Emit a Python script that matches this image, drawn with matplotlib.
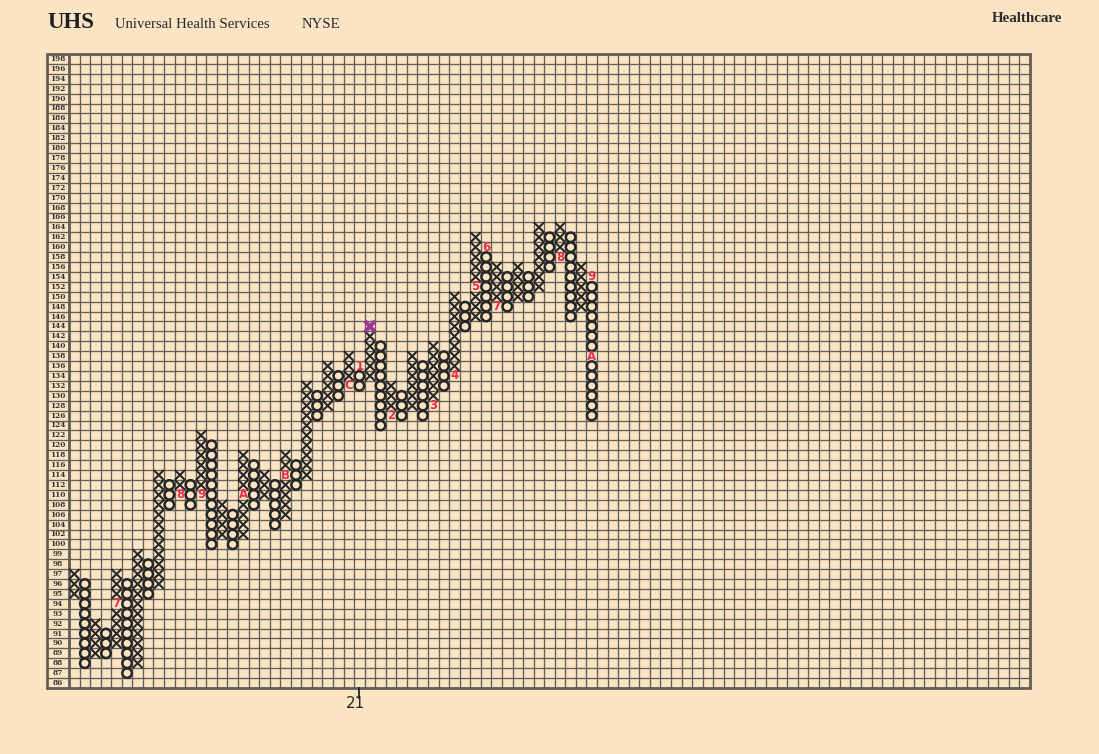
import numpy as np
import matplotlib.pyplot as plt
from matplotlib.patches import Ellipse, Rectangle
from matplotlib.collections import LineCollection

# price scale from top to bottom: 2-point boxes from 100 up, 1-point below
price_rows = list(range(198, 99, -2)) + list(range(99, 85, -1))

# point & figure columns (kind, lowest box, highest box)
col_kind = ['X', 'O', 'X', 'O', 'X', 'O', 'X', 'O', 'X', 'O',
            'X', 'O', 'X', 'O', 'X', 'O', 'X', 'O', 'X', 'O',
            'X', 'O', 'X', 'O', 'X', 'O', 'X', 'O', 'X', 'O',
            'X', 'O', 'X', 'O', 'X', 'O', 'X', 'O', 'X', 'O',
            'X', 'O', 'X', 'O', 'X', 'O', 'X', 'O', 'X', 'O']
col_low = [95, 88, 89, 89, 90, 87, 88, 95, 96, 108,
           110, 108, 110, 100, 102, 100, 102, 108, 110, 104,
           106, 112, 114, 126, 128, 130, 132, 132, 134, 124,
           126, 126, 128, 126, 128, 132, 134, 144, 146, 146,
           148, 148, 150, 150, 152, 156, 158, 146, 148, 126]
col_high = [97, 96, 92, 91, 97, 96, 99, 98, 114, 112,
            114, 112, 122, 120, 108, 106, 118, 116, 114, 112,
            118, 116, 132, 130, 136, 134, 138, 136, 144, 140,
            132, 130, 138, 136, 140, 138, 150, 148, 162, 160,
            156, 154, 156, 154, 164, 162, 164, 162, 156, 154]

# month marks written in place of a box
label_col = [4, 10, 12, 16, 20, 26, 27, 30, 34, 36, 38, 39, 40, 46, 49, 49]
label_price = [94, 110, 110, 110, 114, 132, 136, 126, 128, 134, 152, 160, 148, 158, 154, 138]
label_text = ['7', '8', '9', 'A', 'B', 'C', '1', '2', '3', '4', '5', '6', '7', '8', '9', 'A']

# purple highlighted box
purple_col = 28
purple_price = 144

n_cols = 91
year_col = 27
year_text = '21'

paper = '#fae4c4'
grid_c = '#625e58'
ink = '#262626'
red = '#ea2f4c'

fig = plt.figure(figsize=(10.99, 7.54), dpi=100, facecolor=paper)
ax = fig.add_axes([47 / 1099, 66 / 754, 983 / 1099, 634 / 754])
ax.set_facecolor(paper)
n_rows = len(price_rows)
lab_w = 22 / 10.56
ax.set_xlim(-lab_w, n_cols)
ax.set_ylim(0, n_rows)
ax.axis('off')

row_of = {p: n_rows - 1 - i for i, p in enumerate(price_rows)}

# grid
for y in range(n_rows + 1):
    ax.plot([-lab_w, n_cols], [y, y], color=grid_c, lw=0.95, zorder=1)
for x in range(n_cols + 1):
    ax.plot([x, x], [0, n_rows], color=grid_c, lw=0.95, zorder=1)
ax.add_patch(Rectangle((-lab_w, 0), n_cols + lab_w, n_rows, fill=False,
                       edgecolor=grid_c, lw=2.0, zorder=2, clip_on=False))
ax.plot([0, 0], [0, n_rows], color=grid_c, lw=2.0, zorder=2)

# price labels
for p in price_rows:
    ax.text(-lab_w / 2, row_of[p] + 0.5, str(p), ha='center', va='center',
            fontsize=5.3, fontweight='bold', family='DejaVu Serif', color='#333333')

labelled = set(zip(label_col, label_price))

# X and O boxes
segs = []
for c, kind in enumerate(col_kind):
    for p in price_rows:
        if p < col_low[c] or p > col_high[c]:
            continue
        if (c, p) in labelled or (c == purple_col and p == purple_price):
            continue
        r = row_of[p]
        if kind == 'X':
            segs.append([(c + 0.02, r + 0.0), (c + 0.98, r + 1.0)])
            segs.append([(c + 0.02, r + 1.0), (c + 0.98, r + 0.0)])
        else:
            ax.add_patch(Ellipse((c + 0.5, r + 0.5), 0.9, 0.95, angle=0, fill=False,
                                 edgecolor=ink, lw=1.8, zorder=3))
ax.add_collection(LineCollection(segs, colors=ink, linewidths=1.5, zorder=3))

# purple box
r = row_of[purple_price]
ax.plot([purple_col + 0.15, purple_col + 0.85], [r + 0.1, r + 0.9], color='#a0339a', lw=2.8, zorder=4)
ax.plot([purple_col + 0.15, purple_col + 0.85], [r + 0.9, r + 0.1], color='#a0339a', lw=2.8, zorder=4)

# month marks
for c, p, t in zip(label_col, label_price, label_text):
    ax.text(c + 0.5, row_of[p] + 0.5, t, ha='center', va='center', fontsize=8.5,
            color=red, fontweight='bold', family='DejaVu Sans', zorder=4)

# year tick
ax.plot([year_col + 0.5, year_col + 0.5], [0, -1.05], color=ink, lw=1.3, clip_on=False)
ax.text(year_col + 0.1, -1.6, year_text, ha='center', va='center', fontsize=11,
        color=ink, family='DejaVu Sans')

# header
fig.text(47 / 1099, 1 - 22 / 754, 'UHS', fontsize=16.5, fontweight='bold',
         family='Liberation Serif', va='center', color='#1e1e1e')
fig.text(115 / 1099, 1 - 24 / 754, 'Universal Health Services', fontsize=10.6,
         family='Liberation Serif', va='center', color='#2a2a2a')
fig.text(302 / 1099, 1 - 24 / 754, 'NYSE', fontsize=10.6,
         family='Liberation Serif', va='center', color='#2a2a2a')
fig.text(1062 / 1099, 1 - 19 / 754, 'Healthcare', fontsize=10.8, fontweight='bold',
         family='Liberation Serif', va='center', ha='right', color='#2a2a2a')

fig.savefig('out.png', dpi=100, facecolor=paper)
